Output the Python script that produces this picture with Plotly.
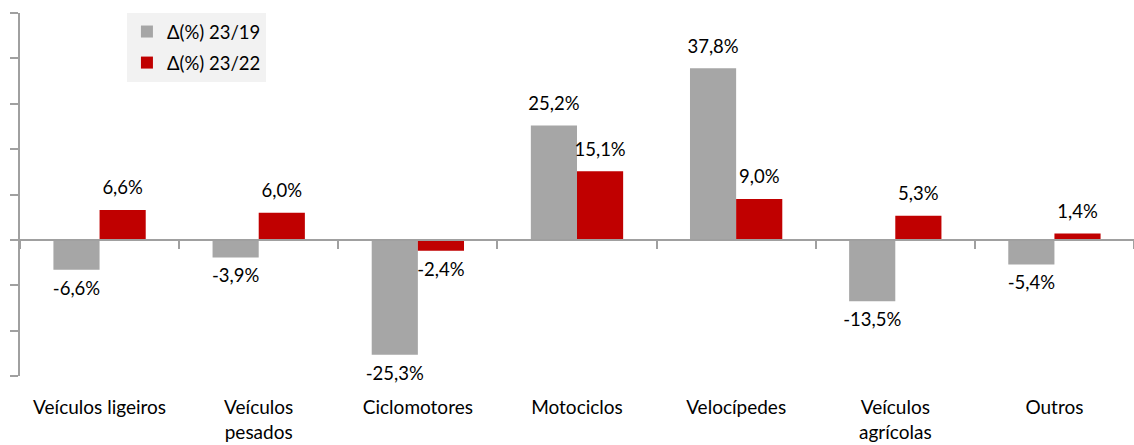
import plotly.graph_objects as go

categories = ["Veículos ligeiros", "Veículos<br>pesados", "Ciclomotores", "Motociclos",
              "Velocípedes", "Veículos<br>agrícolas", "Outros"]
var_23_19 = [-6.6, -3.9, -25.3, 25.2, 37.8, -13.5, -5.4]
var_23_22 = [6.6, 6.0, -2.4, 15.1, 9.0, 5.3, 1.4]
series_names = ["Δ(%) 23/19", "Δ(%) 23/22"]
colors = ["#a6a6a6", "#c00000"]
y_range = [-30, 50]

FONT = "Lato"
fig = go.Figure()
for name, vals, col in zip(series_names, [var_23_19, var_23_22], colors):
    fig.add_trace(go.Bar(
        x=categories, y=vals, name=name, legendgroup=name, marker_color=col,
        marker_line_width=0, offsetgroup=name, textposition="none",
    ))
# value labels, placed by the library's grouping next to each bar end
for name, vals in zip(series_names, [var_23_19, var_23_22]):
    fig.add_trace(go.Scatter(
        x=categories, y=vals, mode="markers+text", offsetgroup=name,
        text=[f"{v:.1f}%".replace(".", ",") for v in vals],
        textposition=["top center" if v >= 0 else "bottom center" for v in vals],
        textfont=dict(family=FONT, size=18.5, color="black"),
        marker=dict(size=16, color="rgba(0,0,0,0)"),
        showlegend=False, hoverinfo="skip", cliponaxis=False,
    ))

zero_pos = (0 - y_range[0]) / (y_range[1] - y_range[0])

fig.update_layout(
    width=1134, height=445,
    margin=dict(l=20, r=0, t=13, b=69, autoexpand=False),
    paper_bgcolor="white", plot_bgcolor="white",
    separators=",.",
    barmode="group", bargap=0.42, bargroupgap=0,
    scattermode="group", scattergap=0.42,
    font=dict(family=FONT, color="black"),
    showlegend=True,
    legend=dict(x=0.096, y=1.0, xanchor="left", yanchor="top",
                bgcolor="#f2f2f2", font=dict(family=FONT, size=18.5),
                itemwidth=30, tracegroupgap=4),
    xaxis=dict(showline=False, ticks="", showgrid=False, automargin=False,
               tickfont=dict(family=FONT, size=19), ticklabelstandoff=18),
    xaxis2=dict(overlaying="x", matches="x", anchor="free", position=zero_pos,
                showline=True, linecolor="#a0a0a0", linewidth=2, automargin=False,
                ticks="outside", tickson="boundaries", ticklen=8, tickwidth=2,
                tickcolor="#a0a0a0", showticklabels=False, showgrid=False),
    yaxis=dict(range=y_range, dtick=10, showline=True, linecolor="#a0a0a0", linewidth=2,
               ticks="outside", ticklen=8, tickwidth=2, tickcolor="#a0a0a0", automargin=False,
               showticklabels=False, showgrid=False, zeroline=False),
)
# invisible trace to activate xaxis2
fig.add_trace(go.Bar(x=categories, y=[0]*len(categories), xaxis="x2",
                     showlegend=False, hoverinfo="skip", marker_color="rgba(0,0,0,0)"))
fig.write_html("out.html", config={"displayModeBar": False},
               post_script="document.body.style.margin='0';document.body.style.overflow='hidden';")
